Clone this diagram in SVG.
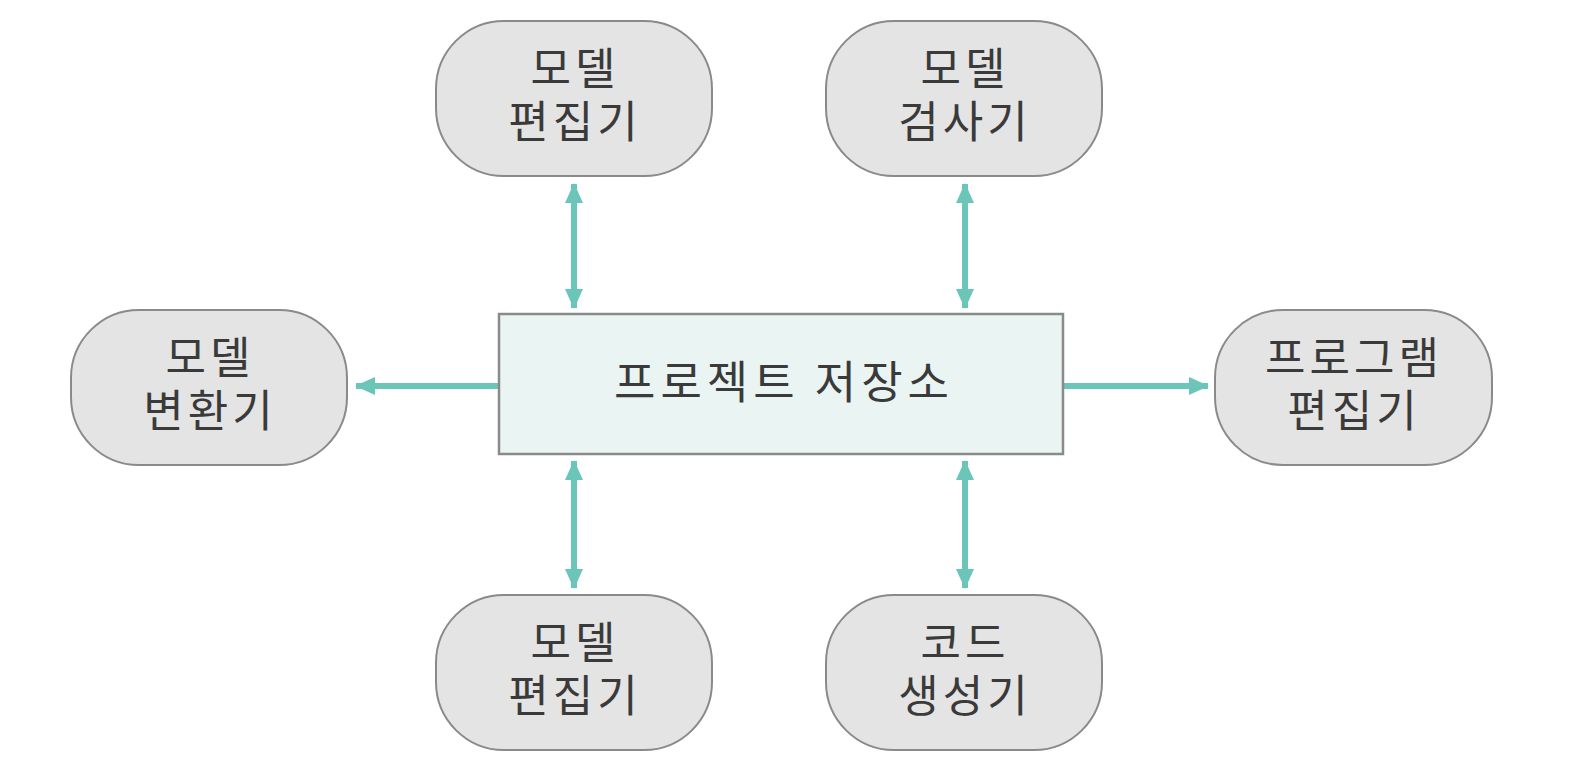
<svg xmlns="http://www.w3.org/2000/svg" width="1584" height="778" viewBox="0 0 1584 778">
<style>
.node{fill:#e4e4e4;stroke:#8a8a8a;stroke-width:2}
.center{fill:#e9f4f3;stroke:#8a8a8a;stroke-width:2.5}
.lbl{font-family:"Noto Sans CJK KR","Noto Sans",sans-serif;font-size:44px;fill:#3a3a3a;text-anchor:middle;letter-spacing:4px}
.conn{stroke:#6cc5b9;stroke-width:6;fill:none}
</style>
<defs>
<marker id="ah" viewBox="0 0 20 18" refX="19" refY="9" markerWidth="20" markerHeight="18" markerUnits="userSpaceOnUse" orient="auto-start-reverse">
<path d="M0,0 L20,9 L0,18 Z" fill="#6cc5b9"/>
</marker>
</defs>
<rect width="1584" height="778" fill="#ffffff"/>
<g id="connectors">
<line class="conn" x1="574" y1="184" x2="574" y2="308" marker-start="url(#ah)" marker-end="url(#ah)"/>
<line class="conn" x1="965" y1="184" x2="965" y2="308" marker-start="url(#ah)" marker-end="url(#ah)"/>
<line class="conn" x1="574" y1="461" x2="574" y2="588" marker-start="url(#ah)" marker-end="url(#ah)"/>
<line class="conn" x1="965" y1="461" x2="965" y2="588" marker-start="url(#ah)" marker-end="url(#ah)"/>
<line class="conn" x1="499" y1="386" x2="356" y2="386" marker-end="url(#ah)"/>
<line class="conn" x1="1063" y1="386" x2="1208" y2="386" marker-end="url(#ah)"/>
</g>
<g id="center-repo">
<rect class="center" x="499" y="314" width="564" height="140"/>
<text class="lbl" x="784" y="399" style="font-size:45px;letter-spacing:5px">프로젝트 저장소</text>
</g>
<g id="node-model-editor-top">
<rect class="node" x="436" y="21" width="276" height="155" rx="68"/>
<text class="lbl"><tspan x="575" y="85">모델</tspan><tspan x="575" y="138">편집기</tspan></text>
</g>
<g id="node-model-checker">
<rect class="node" x="826" y="21" width="276" height="155" rx="68"/>
<text class="lbl"><tspan x="965" y="85">모델</tspan><tspan x="965" y="138">검사기</tspan></text>
</g>
<g id="node-model-transformer">
<rect class="node" x="71" y="310" width="276" height="155" rx="68"/>
<text class="lbl"><tspan x="210" y="374">모델</tspan><tspan x="210" y="427">변환기</tspan></text>
</g>
<g id="node-program-editor">
<rect class="node" x="1215" y="310" width="277" height="155" rx="68"/>
<text class="lbl"><tspan x="1354" y="374">프로그램</tspan><tspan x="1354" y="427">편집기</tspan></text>
</g>
<g id="node-model-editor-bottom">
<rect class="node" x="436" y="595" width="276" height="155" rx="68"/>
<text class="lbl"><tspan x="575" y="659">모델</tspan><tspan x="575" y="712">편집기</tspan></text>
</g>
<g id="node-code-generator">
<rect class="node" x="826" y="595" width="276" height="155" rx="68"/>
<text class="lbl"><tspan x="965" y="659">코드</tspan><tspan x="965" y="712">생성기</tspan></text>
</g>
</svg>
